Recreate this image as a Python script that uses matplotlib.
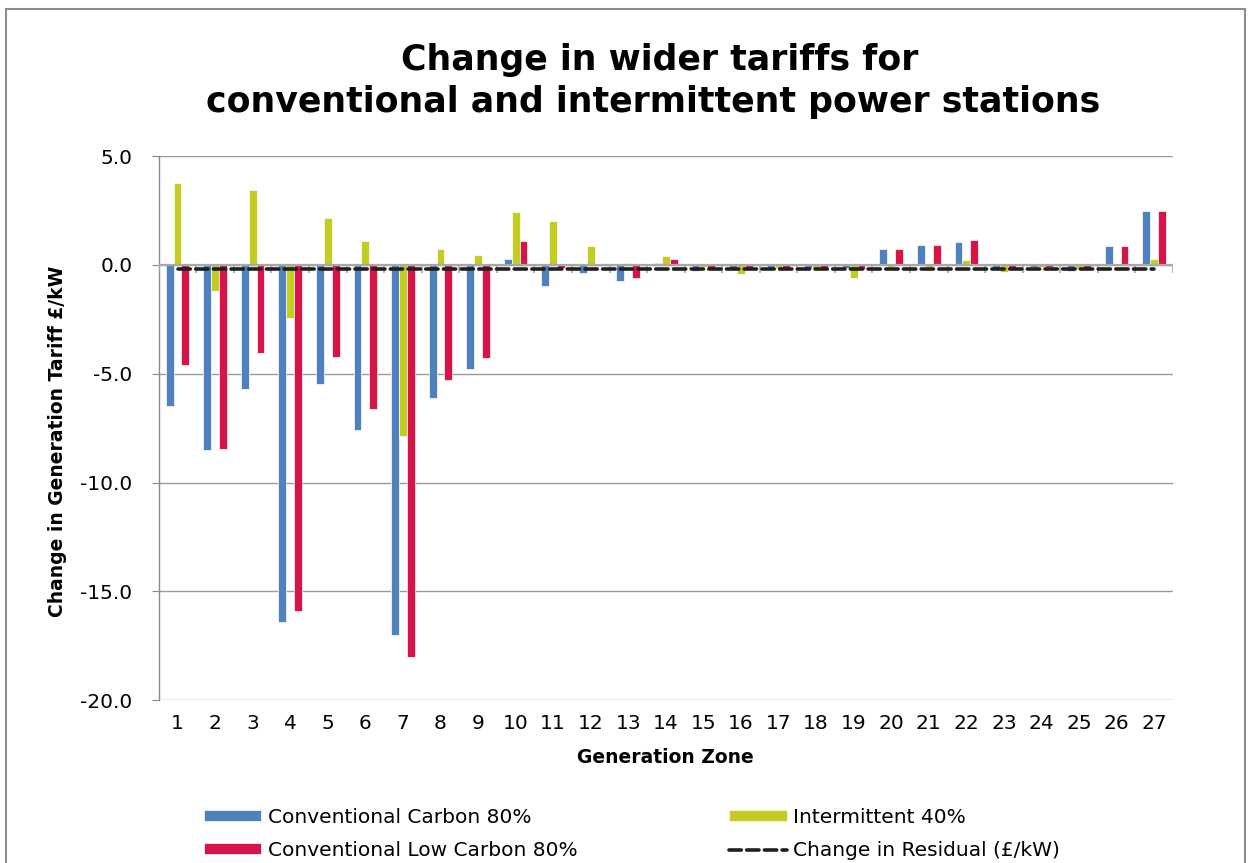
import numpy as np
import matplotlib
matplotlib.use("Agg")
import matplotlib.pyplot as plt
from matplotlib.ticker import FormatStrFormatter
from matplotlib.patches import Rectangle

plt.rcParams['font.family'] = ['DejaVu Sans']
plt.rcParams['axes.unicode_minus'] = False

# Data
zones = list(range(1, 28))
conv_carbon = [-6.5, -8.5, -5.7, -16.4, -5.45, -7.6, -17.0, -6.1, -4.8, 0.26,
               -0.96, -0.38, -0.72, 0.08, -0.26, -0.2, -0.15, -0.15, -0.15, 0.73,
               0.91, 1.06, -0.2, -0.1, -0.29, 0.87, 2.48]
intermittent = [3.78, -1.2, 3.44, -2.42, 2.15, 1.11, -7.85, 0.73, 0.44, 2.43,
                2.0, 0.87, 0.08, 0.40, -0.1, -0.44, -0.15, -0.15, -0.62, -0.1,
                -0.1, 0.23, -0.33, -0.1, -0.2, -0.05, 0.26]
conv_low_carbon = [-4.62, -8.45, -4.03, -15.9, -4.22, -6.6, -18.0, -5.3, -4.28, 1.11,
                   -0.15, -0.05, -0.59, 0.26, -0.2, -0.2, -0.2, -0.2, -0.2, 0.73,
                   0.91, 1.16, -0.2, -0.1, -0.2, 0.87, 2.48]
residual = [-0.2, -0.2, -0.2, -0.2, -0.2, -0.2, -0.2, -0.2, -0.2, -0.2,
            -0.2, -0.2, -0.2, -0.2, -0.2, -0.2, -0.2, -0.2, -0.2, -0.2,
            -0.2, -0.2, -0.2, -0.2, -0.2, -0.2, -0.2]
yticks = [5, 0, -5, -10, -15, -20]

blue = '#4F81BD'
green = '#C3CC20'
red = '#D71447'
grid_col = '#9A9A9A'

fig = plt.figure(figsize=(12.51, 8.63), dpi=100)
ax = fig.add_axes([0.1269, 0.1885, 0.8107, 0.6307])

x = np.array(zones)
w = 0.21
b1 = ax.bar(x - w, conv_carbon, w, color=blue, edgecolor='white', linewidth=0.5, zorder=2)
b2 = ax.bar(x, intermittent, w, color=green, edgecolor='white', linewidth=0.5, zorder=2)
b3 = ax.bar(x + w, conv_low_carbon, w, color=red, edgecolor='white', linewidth=0.5, zorder=2)
ln, = ax.plot(x, residual, color='#202020', linewidth=2.6, dashes=(3.4, 1.5),
              dash_capstyle='round', zorder=4)

ax.set_xlim(0.5, 27.5)
ax.set_ylim(-20, 5)

# horizontal gridlines and zero axis with category ticks
for yv in yticks:
    ax.axhline(yv, color=grid_col, linewidth=1.0, zorder=1)
ax.axhline(0, color='#A8A8A8', linewidth=1.6, zorder=3)
bounds = np.arange(0.5, len(zones) + 1, 1.0)
ax.vlines(bounds, -0.38, 0, color='#A8A8A8', linewidth=1.2, zorder=3)

for s in ['top', 'right', 'bottom']:
    ax.spines[s].set_visible(False)
ax.spines['left'].set_color('#8A8A8A')
ax.spines['left'].set_linewidth(1.0)

ax.set_yticks(yticks)
ax.yaxis.set_major_formatter(FormatStrFormatter('%.1f'))
ax.set_xticks(zones)
ax.set_xticklabels([str(z) for z in zones])
ax.tick_params(axis='y', direction='out', length=5, color='#8A8A8A', labelsize=14.5, pad=14)
ax.tick_params(axis='x', length=0, labelsize=14.5, pad=10)

ax.set_xlabel('Generation Zone', fontsize=13.5, fontweight='bold', labelpad=11)
ax.set_ylabel('Change in Generation Tariff £/kW', fontsize=13.5, fontweight='bold')
ax.yaxis.set_label_coords(-0.0907, 0.4755)

fig.text(0.5276, 1 - 70 / 863, 'Change in wider tariffs for', ha='center', va='baseline',
         fontsize=25, fontweight='bold')
fig.text(0.5224, 1 - 112 / 863, 'conventional and intermittent power stations', ha='center',
         va='baseline', fontsize=25, fontweight='bold')

# outer chart border
fig.patches.append(Rectangle((6 / 1251, -0.05), 1239 / 1251, 1.05 - 9 / 863,
                             transform=fig.transFigure, fill=False,
                             edgecolor='#8C8C8C', linewidth=1.5))

handles = [b1, b3, b2, ln]
labels = ['Conventional Carbon 80%', 'Conventional Low Carbon 80%',
          'Intermittent 40%', 'Change in Residual (£/kW)']
leg = fig.legend(handles, labels, loc='center left', bbox_to_anchor=(194 / 1251, 1 - 834 / 863),
                 ncol=2, frameon=False, fontsize=14.5, handlelength=2.85, handleheight=0.45,
                 handletextpad=0.3, columnspacing=7.55, labelspacing=0.7, borderpad=0)

fig.savefig('out.png', dpi=100)
